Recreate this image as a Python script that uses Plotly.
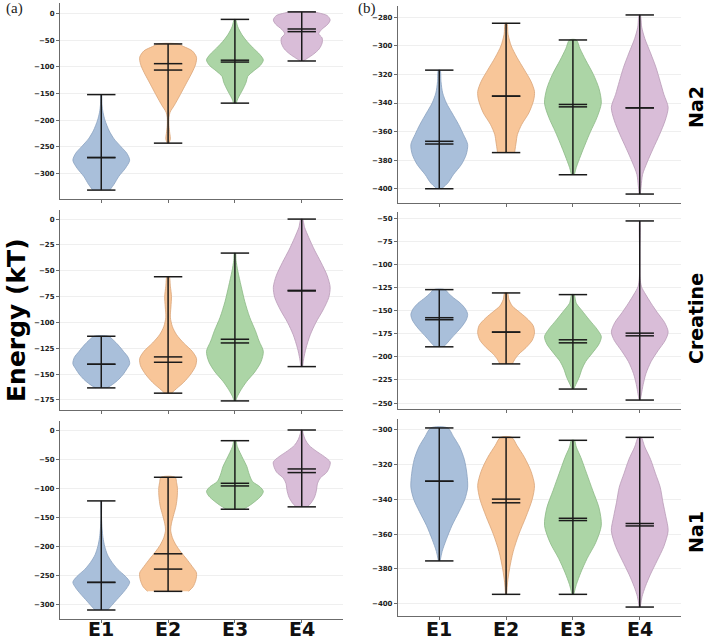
import plotly.graph_objects as go

# ---------------- data ----------------
categories = ["E1", "E2", "E3", "E4"]
row_labels = ["Na2", "Creatine", "Na1"]
fill_colors = ["#a9bfda", "#f8c699", "#acd5a6", "#d9bdd8"]
edge_colors = ["#8aa2c0", "#d9a478", "#8bb985", "#b99bb8"]

# statistics per panel: (a) left column, (b) right column; rows Na2, Creatine, Na1
a_na2_min = [-331, -243, -168, -89]
a_na2_max = [-152, -57, -11, 3]
a_na2_mean = [-270, -94, -87.5, -29]
a_na2_median = [-270, -106, -91, -34]

a_cre_min = [-163.4, -168.5, -176, -142.8]
a_cre_max = [-113.4, -55.8, -32.9, 0]
a_cre_mean = [-140.5, -133.4, -116.3, -69]
a_cre_median = [-140.5, -138.6, -119.9, -69.6]

a_na1_min = [-310.3, -278, -135.9, -131.8]
a_na1_max = [-121.5, -80.6, -17.3, 1.2]
a_na1_mean = [-262.5, -213, -91, -66.2]
a_na1_median = [-262.5, -239.5, -95.6, -72.5]

b_na2_min = [-400, -374.7, -390.2, -403.7]
b_na2_max = [-317, -284.2, -295.9, -278.4]
b_na2_mean = [-366.8, -335.2, -341, -343.4]
b_na2_median = [-368.7, -335.2, -342.7, -343.4]

b_cre_min = [-189.1, -207.6, -234.8, -246.7]
b_cre_max = [-127.2, -130.8, -132.6, -52.9]
b_cre_mean = [-157.6, -173.2, -181.5, -174.3]
b_cre_median = [-159.8, -173.2, -184.8, -177.2]

b_na1_min = [-375.4, -394.6, -394.6, -401.9]
b_na1_max = [-299, -304.4, -306.1, -304.4]
b_na1_mean = [-329.6, -339.9, -350.9, -353.9]
b_na1_median = [-329.6, -342, -352.2, -355.3]

# density profiles: (energy, relative half-width)
a_na2_prof = [
    [(-331, 0.3), (-320, 0.45), (-305, 0.62), (-290, 0.85), (-275, 1.0), (-262, 0.9), (-250, 0.7),
     (-235, 0.45), (-220, 0.28), (-200, 0.13), (-185, 0.06), (-170, 0.025), (-152, 0.01)],
    [(-243, 0.03), (-235, 0.08), (-225, 0.06), (-210, 0.03), (-195, 0.03), (-185, 0.07), (-172, 0.22),
     (-155, 0.4), (-140, 0.55), (-125, 0.7), (-110, 0.85), (-95, 0.97), (-82, 1.0), (-70, 0.85),
     (-62, 0.55), (-57, 0.35)],
    [(-168, 0.05), (-160, 0.1), (-150, 0.2), (-140, 0.3), (-128, 0.4), (-118, 0.45), (-108, 0.65),
     (-97, 0.9), (-87, 1.0), (-77, 0.88), (-65, 0.65), (-52, 0.42), (-40, 0.25), (-25, 0.1), (-11, 0.02)],
    [(-89, 0.05), (-84, 0.2), (-76, 0.42), (-66, 0.62), (-55, 0.72), (-46, 0.72), (-38, 0.6),
     (-30, 0.7), (-20, 0.92), (-12, 1.0), (-4, 0.9), (1, 0.6), (3, 0.4)],
]
a_cre_prof = [
    [(-163.4, 0.2), (-160, 0.4), (-155, 0.62), (-150, 0.78), (-145, 0.9), (-140, 1.0), (-134, 0.95),
     (-128, 0.78), (-122, 0.6), (-117, 0.42), (-113.4, 0.25)],
    [(-168.5, 0.12), (-164, 0.3), (-158, 0.55), (-150, 0.8), (-142, 0.97), (-135, 1.0), (-128, 0.85),
     (-120, 0.55), (-112, 0.3), (-104, 0.15), (-95, 0.08), (-85, 0.1), (-75, 0.12), (-65, 0.08),
     (-55.8, 0.04)],
    [(-176, 0.03), (-172, 0.08), (-165, 0.22), (-157, 0.42), (-148, 0.7), (-138, 0.92), (-128, 1.0),
     (-118, 0.85), (-108, 0.72), (-95, 0.52), (-80, 0.35), (-65, 0.22), (-50, 0.1), (-40, 0.04),
     (-32.9, 0.02)],
    [(-142.8, 0.03), (-135, 0.07), (-125, 0.15), (-112, 0.3), (-100, 0.5), (-88, 0.75), (-76, 0.95),
     (-66, 1.0), (-55, 0.9), (-42, 0.68), (-30, 0.45), (-18, 0.25), (-8, 0.1), (0, 0.03)],
]
a_na1_prof = [
    [(-310.3, 0.22), (-305, 0.32), (-295, 0.5), (-283, 0.72), (-272, 0.9), (-262, 1.0), (-252, 0.85),
     (-240, 0.58), (-228, 0.38), (-215, 0.22), (-200, 0.12), (-185, 0.06), (-170, 0.03), (-150, 0.01),
     (-121.5, 0.005)],
    [(-278, 0.72), (-270, 0.88), (-258, 0.98), (-246, 1.0), (-235, 0.85), (-222, 0.65), (-210, 0.45),
     (-198, 0.28), (-185, 0.15), (-172, 0.09), (-160, 0.12), (-145, 0.2), (-130, 0.28), (-115, 0.32),
     (-100, 0.33), (-90, 0.3), (-80.6, 0.25)],
    [(-135.9, 0.3), (-130, 0.5), (-122, 0.72), (-113, 0.92), (-105, 1.0), (-97, 0.88), (-88, 0.62),
     (-75, 0.5), (-62, 0.42), (-50, 0.3), (-38, 0.18), (-27, 0.08), (-17.3, 0.03)],
    [(-131.8, 0.2), (-125, 0.33), (-115, 0.45), (-103, 0.52), (-92, 0.55), (-82, 0.65), (-72, 0.88),
     (-62, 0.98), (-54, 1.0), (-45, 0.8), (-35, 0.5), (-25, 0.25), (-15, 0.12), (-5, 0.05), (1.2, 0.02)],
]
b_na2_prof = [
    [(-400, 0.08), (-396, 0.3), (-390, 0.5), (-383, 0.78), (-376, 0.95), (-369, 1.0), (-362, 0.85),
     (-355, 0.68), (-347, 0.45), (-340, 0.25), (-333, 0.12), (-325, 0.06), (-317, 0.03)],
    [(-374.7, 0.3), (-368, 0.35), (-362, 0.4), (-355, 0.55), (-347, 0.8), (-338, 0.97), (-332, 1.0),
     (-325, 0.88), (-317, 0.65), (-308, 0.38), (-300, 0.18), (-292, 0.07), (-284.2, 0.03)],
    [(-390.2, 0.05), (-385, 0.12), (-377, 0.27), (-368, 0.45), (-360, 0.62), (-350, 0.85), (-340, 1.0),
     (-330, 0.92), (-320, 0.72), (-310, 0.45), (-302, 0.25), (-295.9, 0.12)],
    [(-403.7, 0.02), (-398, 0.05), (-390, 0.1), (-382, 0.25), (-372, 0.47), (-362, 0.7), (-352, 0.9),
     (-343, 1.0), (-334, 0.85), (-325, 0.72), (-315, 0.57), (-305, 0.38), (-295, 0.18), (-287, 0.07),
     (-278.4, 0.02)],
]
b_cre_prof = [
    [(-189.1, 0.15), (-185, 0.28), (-180, 0.42), (-174, 0.6), (-167, 0.8), (-160, 0.95), (-154, 1.0),
     (-148, 0.92), (-142, 0.75), (-136, 0.5), (-131, 0.32), (-127.2, 0.2)],
    [(-207.6, 0.22), (-203, 0.3), (-197, 0.45), (-190, 0.7), (-182, 0.92), (-174, 1.0), (-166, 0.95),
     (-158, 0.72), (-151, 0.45), (-145, 0.22), (-138, 0.1), (-130.8, 0.05)],
    [(-234.8, 0.03), (-230, 0.1), (-222, 0.22), (-213, 0.32), (-205, 0.45), (-196, 0.68), (-186, 0.92),
     (-178, 1.0), (-170, 0.85), (-160, 0.58), (-150, 0.32), (-142, 0.12), (-132.6, 0.04)],
    [(-246.7, 0.02), (-240, 0.06), (-230, 0.12), (-218, 0.22), (-205, 0.4), (-193, 0.65), (-182, 0.9),
     (-173, 1.0), (-163, 0.88), (-152, 0.62), (-142, 0.4), (-132, 0.2), (-124, 0.06), (-115, 0.015),
     (-90, 0.005), (-52.9, 0.005)],
]
b_na1_prof = [
    [(-375.4, 0.03), (-370, 0.1), (-363, 0.25), (-355, 0.45), (-347, 0.7), (-340, 0.9), (-333, 1.0),
     (-325, 0.97), (-317, 0.88), (-310, 0.72), (-304, 0.5), (-299, 0.3)],
    [(-394.6, 0.02), (-388, 0.05), (-380, 0.12), (-370, 0.25), (-360, 0.45), (-350, 0.7), (-340, 0.92),
     (-332, 1.0), (-324, 0.88), (-316, 0.65), (-309, 0.38), (-304.4, 0.2)],
    [(-394.6, 0.03), (-389, 0.12), (-382, 0.28), (-374, 0.5), (-365, 0.8), (-355, 1.0), (-345, 0.92),
     (-335, 0.7), (-325, 0.48), (-316, 0.28), (-310, 0.12), (-306.1, 0.05)],
    [(-401.9, 0.02), (-396, 0.08), (-390, 0.2), (-383, 0.38), (-375, 0.62), (-367, 0.85), (-358, 1.0),
     (-350, 0.92), (-342, 0.82), (-333, 0.72), (-325, 0.55), (-317, 0.38), (-310, 0.18), (-304.4, 0.05)],
]

# y ticks per panel
a_na2_ticks = [0, -50, -100, -150, -200, -250, -300]
a_cre_ticks = [0, -25, -50, -75, -100, -125, -150, -175]
a_na1_ticks = [0, -50, -100, -150, -200, -250, -300]
b_na2_ticks = [-280, -300, -320, -340, -360, -380, -400]
b_cre_ticks = [-50, -75, -100, -125, -150, -175, -200, -225, -250]
b_na1_ticks = [-300, -320, -340, -360, -380, -400]

panels = [
    # (col, row, profiles, mins, maxs, means, medians, ticks)
    (0, 0, a_na2_prof, a_na2_min, a_na2_max, a_na2_mean, a_na2_median, a_na2_ticks),
    (0, 1, a_cre_prof, a_cre_min, a_cre_max, a_cre_mean, a_cre_median, a_cre_ticks),
    (0, 2, a_na1_prof, a_na1_min, a_na1_max, a_na1_mean, a_na1_median, a_na1_ticks),
    (1, 0, b_na2_prof, b_na2_min, b_na2_max, b_na2_mean, b_na2_median, b_na2_ticks),
    (1, 1, b_cre_prof, b_cre_min, b_cre_max, b_cre_mean, b_cre_median, b_cre_ticks),
    (1, 2, b_na1_prof, b_na1_min, b_na1_max, b_na1_mean, b_na1_median, b_na1_ticks),
]

# ---------------- layout geometry ----------------
W, H = 709, 642
x_dom = [[60 / W, 343 / W], [398 / W, 681 / W]]
y_dom = [
    [[1 - 199 / H, 1 - 3 / H], [1 - 410 / H, 1 - 210 / H], [1 - 619 / H, 1 - 421 / H]],
    [[1 - 203 / H, 1 - 6 / H], [1 - 409 / H, 1 - 212 / H], [1 - 616 / H, 1 - 419 / H]],
]
VW = 0.85          # violin width
HALF = VW / 2
CAP = VW * 0.25    # half-length of cap lines
XR = [1 - HALF - 0.05 * (3 + VW), 4 + HALF + 0.05 * (3 + VW)]

fig = go.Figure()
layout = {}
annotations = []
tick_font = dict(family="DejaVu Sans", size=7, color="#222222", weight="bold")

for idx, (col, row, profs, mins, maxs, means, meds, ticks) in enumerate(panels):
    n = idx + 1
    xa = "x" if n == 1 else f"x{n}"
    ya = "y" if n == 1 else f"y{n}"
    xkey = "xaxis" if n == 1 else f"xaxis{n}"
    ykey = "yaxis" if n == 1 else f"yaxis{n}"

    for k, prof in enumerate(profs):
        pos = k + 1
        ys = [p[0] for p in prof]
        ws = [p[1] for p in prof]
        xs = [pos + HALF * w for w in ws] + [pos - HALF * w for w in ws[::-1]]
        yy = ys + ys[::-1]
        fig.add_trace(go.Scatter(
            x=xs, y=yy, xaxis=xa, yaxis=ya, mode="lines", fill="toself",
            fillcolor=fill_colors[k], line=dict(color=edge_colors[k], width=0.8, shape="spline", smoothing=0.8),
            hoverinfo="skip", showlegend=False))

    lx, ly = [], []
    for k in range(4):
        pos = k + 1
        lx += [pos, pos, None]
        ly += [mins[k], maxs[k], None]
        for v in (mins[k], maxs[k], means[k], meds[k]):
            lx += [pos - CAP, pos + CAP, None]
            ly += [v, v, None]
    fig.add_trace(go.Scatter(x=lx, y=ly, xaxis=xa, yaxis=ya, mode="lines",
                             line=dict(color="#1a1a1a", width=1.5), hoverinfo="skip", showlegend=False))

    lo = min(mins)
    hi = max(maxs)
    pad = 0.05 * (hi - lo)
    layout[xkey] = dict(
        domain=x_dom[col], anchor=ya, range=XR, showgrid=False, zeroline=False, automargin=False,
        showline=True, linecolor="#6b6b6b", linewidth=1.2,
        tickmode="array", tickvals=[1, 2, 3, 4], showticklabels=False,
        ticks="outside", ticklen=3, tickcolor="#6b6b6b",
    )
    layout[ykey] = dict(
        domain=y_dom[col][row], anchor=xa, range=[lo - pad, hi + pad], automargin=False,
        showgrid=True, gridcolor="#efefef", gridwidth=0.8, zeroline=False,
        showline=True, linecolor="#6b6b6b", linewidth=1.2,
        tickmode="array", tickvals=ticks, ticks="outside", ticklen=3, tickcolor="#6b6b6b",
        tickfont=tick_font,
    )
    if row == 2:
        for k, cat in enumerate(categories):
            annotations.append(dict(
                text=cat, x=k + 1, xref=xa, y=1 - 629 / H, yref="paper",
                xanchor="center", yanchor="middle", showarrow=False, borderpad=0,
                font=dict(family="DejaVu Sans", size=19, color="#111111", weight="bold")))

annotations += [
    dict(text="(a)", x=4 / W, y=1 - 9 / H, xref="paper", yref="paper", xanchor="left", yanchor="middle",
         showarrow=False, font=dict(family="Liberation Serif", size=15, color="#222222")),
    dict(text="(b)", x=356 / W, y=1 - 9 / H, xref="paper", yref="paper", xanchor="left", yanchor="middle",
         showarrow=False, font=dict(family="Liberation Serif", size=15, color="#222222")),
    dict(text="Energy (kT)", x=16 / W, y=1 - 320 / H, xref="paper", yref="paper", xanchor="center",
         yanchor="middle", textangle=-90, showarrow=False,
         font=dict(family="DejaVu Sans", size=25, color="#000000", weight="bold")),
]
for lab, yc in zip(row_labels, [107, 319, 532]):
    annotations.append(dict(text=lab, x=696 / W, y=1 - yc / H, xref="paper", yref="paper",
                            xanchor="center", yanchor="middle", textangle=-90, showarrow=False,
                            font=dict(family="DejaVu Sans", size=19, color="#000000", weight="bold")))

fig.update_layout(
    width=W, height=H, margin=dict(l=0, r=0, t=0, b=0, autoexpand=False),
    paper_bgcolor="white", plot_bgcolor="white", showlegend=False,
    annotations=annotations, **layout)

fig.write_html("out.html")
